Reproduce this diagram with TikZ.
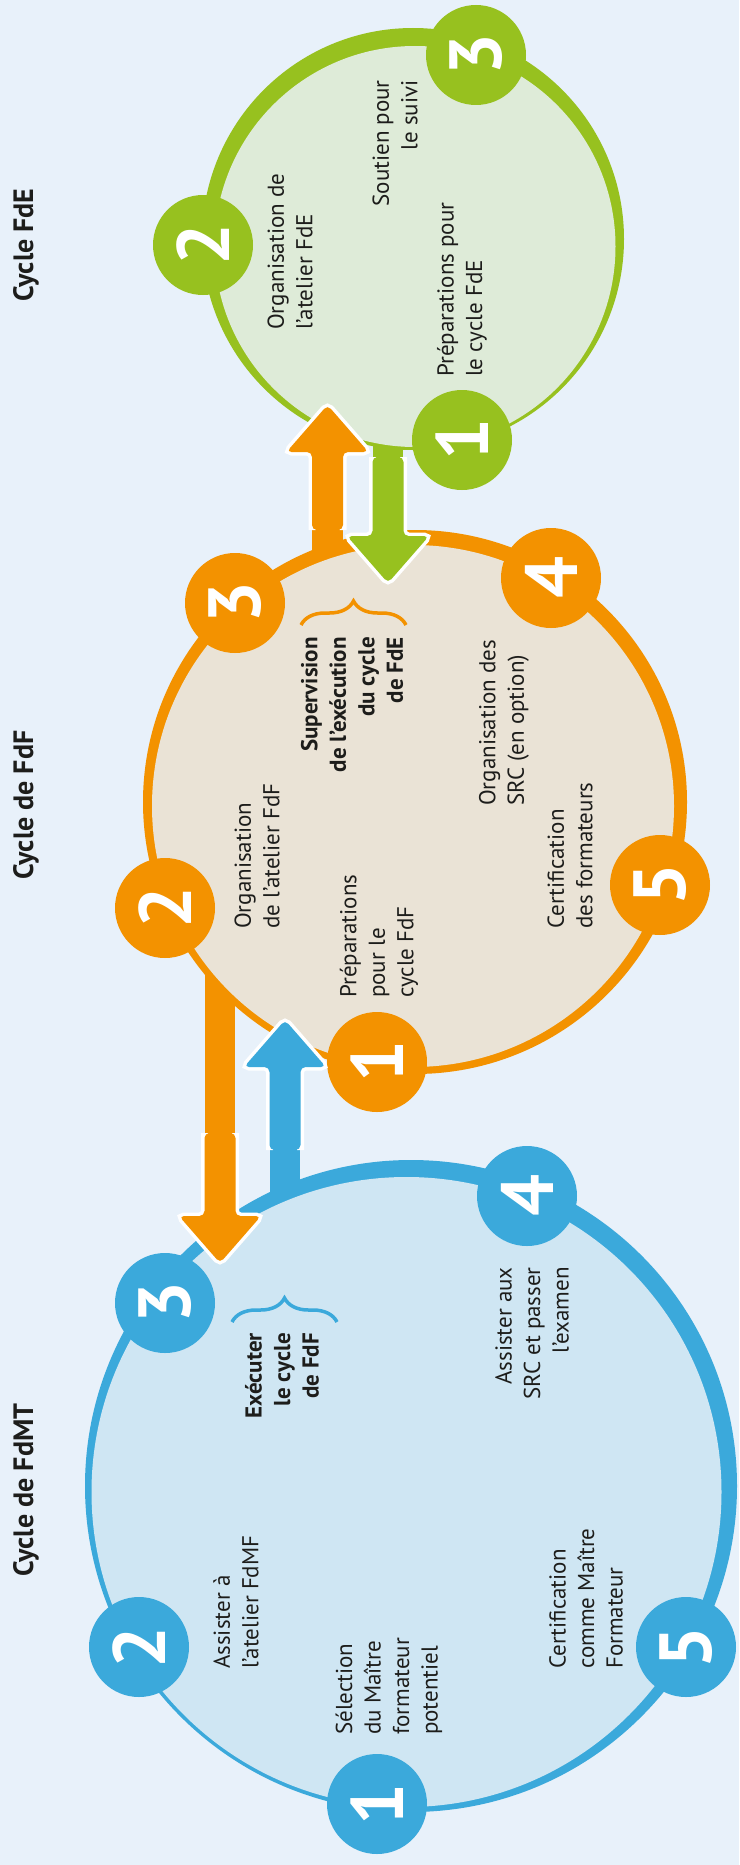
\documentclass[tikz,border=0pt]{standalone}
\usepackage{fontspec}
\setmainfont{PT Sans}
\usetikzlibrary{decorations.pathreplacing}

\definecolor{pageblue}{HTML}{E8F1FA}
\definecolor{fdeGreen}{HTML}{97C11F}
\definecolor{fdeFill}{HTML}{DEEBD8}
\definecolor{fdfOrange}{HTML}{F39200}
\definecolor{fdfFill}{HTML}{EAE3D6}
\definecolor{fdmtBlue}{HTML}{3BA9DB}
\definecolor{fdmtFill}{HTML}{CFE6F3}
\definecolor{ink}{HTML}{1D1D1B}

% #1 colour, #2 tail, #3 tip, #4 shift from tip to head base
\newcommand{\fatarrow}[4]{%
  \draw[white, line width=7pt, rounded corners=5pt]
    ([xshift=-15.5pt]#2) -- ([xshift=-15.5pt,yshift=#4]#3) -- ([xshift=-41pt,yshift=#4]#3)
    -- (#3) -- ([xshift=41pt,yshift=#4]#3) -- ([xshift=15.5pt,yshift=#4]#3) -- ([xshift=15.5pt]#2);
  \fill[#1, rounded corners=5pt]
    ([xshift=-15.5pt]#2) -- ([xshift=-15.5pt,yshift=#4]#3) -- ([xshift=-41pt,yshift=#4]#3)
    -- (#3) -- ([xshift=41pt,yshift=#4]#3) -- ([xshift=15.5pt,yshift=#4]#3) -- ([xshift=15.5pt]#2) -- cycle;
}

\begin{document}
\begin{tikzpicture}[x=1pt, y=-1pt,
    num/.style={circle, fill=#1, minimum size=100pt, inner sep=0pt, text=white,
      font=\fontsize{74}{74}\selectfont\bfseries, rotate=90},
    disc/.style={circle, fill=#1, inner sep=0pt},
    lbl/.style={rotate=90, inner sep=0pt, text=ink, font=\fontsize{23}{28.5}\selectfont},
    lblL/.style={lbl, align=left, anchor=west},
    lblR/.style={lbl, align=right, anchor=east},
    heavy/.style={font=\fontsize{23}{28.5}\selectfont\bfseries},
    title/.style={rotate=90, inner sep=0pt, text=ink, font=\fontsize{28}{32}\selectfont\bfseries},
    curly/.style={decorate, decoration={brace, amplitude=24pt}, line width=3.5pt, #1}]
    \fill[pageblue] (0,0) rectangle (739,1865);
    \useasboundingbox (0,0) rectangle (739,1865);

    % arrow end points
    \coordinate (fOutE) at (327.5,620);
    \coordinate (fTailE) at (327.5,530);
    \coordinate (eTipF) at (327.5,405);
    \coordinate (eOutF) at (388,380);
    \coordinate (eTailF) at (388,457);
    \coordinate (fTipE) at (388,583);
    \coordinate (fOutM) at (220,930);
    \coordinate (fTailM) at (220,1133);
    \coordinate (mTipF) at (220,1263);
    \coordinate (mOutF) at (285,1260);
    \coordinate (mTailF) at (285,1150);
    \coordinate (fTipM) at (285,1020);

    % shafts, under the circles
    \fill[fdfOrange] ([xshift=-15.5pt]fOutE) rectangle ([xshift=15.5pt,yshift=-47pt]eTipF);
    \fill[fdeGreen] ([xshift=-15pt]eOutF) rectangle ([xshift=15pt,yshift=47pt]fTipE);
    \fill[fdfOrange] ([xshift=-15pt]fOutM) rectangle ([xshift=15pt,yshift=47pt]mTipF);
    \fill[fdmtBlue] ([xshift=-15pt]mOutF) rectangle ([xshift=15pt,yshift=-47pt]fTipM);

    % Cycle FdE
    \node[disc=fdeGreen, minimum size=422pt] (fdeRing) at (413,239) {};
    \node[disc=fdeFill, minimum size=401pt] (fde) at (415,246.5) {};
    \node[num=fdeGreen] (e1) at (462,440) {1};
    \node[num=fdeGreen] (e2) at (203,245) {2};
    \node[num=fdeGreen] (e3) at (476,55) {3};
    \node[title] (eTitle) at (26,245) {Cycle FdE};
    \node[lblR] (eSout) at (395,80) {Soutien pour\\le suivi};
    \node[lblL] (eOrg) at (290,330) {Organisation de\\l’atelier FdE};
    \node[lblL] (ePrep) at (462,377) {Préparations pour\\le cycle FdE};

    % Cycle de FdF
    \node[disc=fdfOrange, minimum size=544pt] (fdfRing) at (415,802) {};
    \node[disc=fdfFill, minimum size=522pt] (fdf) at (413,806) {};
    \node[num=fdfOrange] (f1) at (377,1062) {1};
    \node[num=fdfOrange] (f2) at (165,908) {2};
    \node[num=fdfOrange] (f3) at (235,603) {3};
    \node[num=fdfOrange] (f4) at (551,578) {4};
    \node[num=fdfOrange] (f5) at (660,885) {5};
    \node[title] (fTitle) at (26,805) {Cycle de FdF};
    \node[lblR, heavy] (fSup) at (352,637) {Supervision\\de l’exécution\\du cycle\\de FdE};
    \draw[curly=fdfOrange] (301,625) -- (406,625);
    \node[lblL] (fOrg) at (257,929) {Organisation\\de l’atelier FdF};
    \node[lblL] (fPrep) at (379,998) {Préparations\\pour le\\cycle FdF};
    \node[lblL] (fSrc) at (504,806) {Organisation des\\SRC (en option)};
    \node[lblL] (fCert) at (570,929) {Certification\\des formateurs};

    % Cycle de FdMT
    \node[disc=fdmtBlue, minimum size=652pt] (fdmtRing) at (411,1486) {};
    \node[disc=fdmtFill, minimum size=630pt] (fdmt) at (406.5,1492) {};
    \node[num=fdmtBlue] (m1) at (377,1804) {1};
    \node[num=fdmtBlue] (m2) at (139,1647) {2};
    \node[num=fdmtBlue] (m3) at (165,1303) {3};
    \node[num=fdmtBlue] (m4) at (527,1196) {4};
    \node[num=fdmtBlue] (m5) at (686,1647) {5};
    \node[title] (mTitle) at (26,1490) {Cycle de FdMT};
    \node[lblR, heavy] (mExec) at (282,1333) {Exécuter\\le cycle\\de FdF};
    \draw[curly=fdmtBlue] (232,1322) -- (337,1322);
    \node[lblL] (mAssist) at (236,1669) {Assister à\\l’atelier FdMF};
    \node[lblL] (mSel) at (389,1735) {Sélection\\du Maître\\formateur\\potentiel};
    \node[lblR] (mSrc) at (532,1267) {Assister aux\\SRC et passer\\l’examen};
    \node[lblL] (mCert) at (586,1669) {Certification\\comme Maître\\Formateur};

    % arrow heads
    \fatarrow{fdfOrange}{fTailE}{eTipF}{-47pt}
    \fatarrow{fdeGreen}{eTailF}{fTipE}{47pt}
    \fatarrow{fdfOrange}{fTailM}{mTipF}{47pt}
    \fatarrow{fdmtBlue}{mTailF}{fTipM}{-47pt}
\end{tikzpicture}
\end{document}
